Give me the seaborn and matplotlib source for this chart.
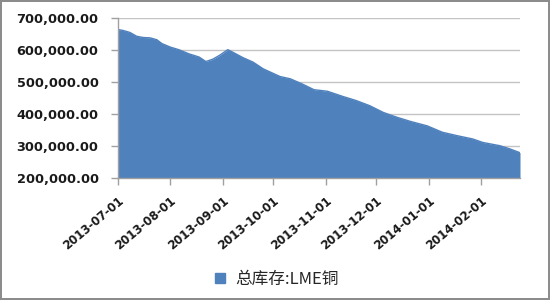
import matplotlib
matplotlib.use("Agg")
import matplotlib.pyplot as plt
from matplotlib.lines import Line2D
import seaborn as sns
import pandas as pd

dates = ["2013-07-01", "2013-07-04", "2013-07-08", "2013-07-12", "2013-07-16",
         "2013-07-20", "2013-07-24", "2013-07-27", "2013-08-01", "2013-08-06",
         "2013-08-12", "2013-08-18", "2013-08-22", "2013-08-26", "2013-08-30",
         "2013-09-04", "2013-09-07", "2013-09-13", "2013-09-19", "2013-09-25",
         "2013-10-05", "2013-10-11", "2013-10-18", "2013-10-25", "2013-11-02",
         "2013-11-11", "2013-11-19", "2013-11-27", "2013-12-05", "2013-12-13",
         "2013-12-21", "2013-12-31", "2014-01-09", "2014-01-18", "2014-01-27",
         "2014-02-02", "2014-02-12", "2014-02-18", "2014-02-24"]
stock = [664000, 661000, 655000, 643000, 639000,
         638000, 632000, 620000, 609000, 601000,
         588000, 578000, 564000, 571000, 583000,
         601000, 593000, 576000, 562000, 541000,
         517000, 510000, 494000, 476000, 471000,
         455000, 442000, 426000, 405000, 390000,
         377000, 363000, 343000, 332000, 322000,
         311000, 301000, 291000, 279000]
month_ticks = ["2013-07-01", "2013-08-01", "2013-09-01", "2013-10-01",
               "2013-11-01", "2013-12-01", "2014-01-01", "2014-02-01"]
y_ticks = [200000, 300000, 400000, 500000, 600000, 700000]
series_name = "总库存:LME铜"

df = pd.DataFrame({"date": pd.to_datetime(dates), "stock": stock})
color = "#4F81BD"

sns.set_style("white")
plt.rcParams["font.family"] = ["DejaVu Sans"]

fig = plt.figure(figsize=(5.5, 3.0), dpi=100, edgecolor="#8c8c8c", linewidth=1.5)
ax = fig.add_axes([118 / 550, 1 - 178 / 300, (520 - 118) / 550, (178 - 18) / 300])

sns.lineplot(data=df, x="date", y="stock", ax=ax, color=color, linewidth=1)
ax.fill_between(df["date"], df["stock"], y_ticks[0], color=color, linewidth=0)

ax.set_xlim(df["date"].iloc[0], df["date"].iloc[-1])
ax.set_ylim(y_ticks[0], y_ticks[-1])
ax.set_yticks(y_ticks)
ax.set_yticklabels([f"{v:,.2f}" for v in y_ticks], fontsize=9.3, fontweight="bold", color="#1a1a1a")
ax.set_xticks(pd.to_datetime(month_ticks))
ax.set_xticklabels(month_ticks, rotation=40, ha="right", rotation_mode="anchor",
                   fontsize=8.5, fontweight="bold", color="#1a1a1a")
ax.set_xlabel("")
ax.set_ylabel("")

ax.grid(axis="y", color="#c4c4c4", linewidth=1)
ax.grid(axis="x", visible=False)
ax.set_axisbelow(True)
for s in ["top", "right"]:
    ax.spines[s].set_visible(False)
for s in ["left", "bottom"]:
    ax.spines[s].set_color("#a0a0a0")
    ax.spines[s].set_linewidth(1)
ax.tick_params(axis="both", which="both", length=5, width=1, color="#a0a0a0",
               direction="out", left=True, bottom=True)
ax.tick_params(axis="y", pad=9)
ax.tick_params(axis="x", pad=7)

handle = Line2D([], [], marker="s", linestyle="none", markersize=7,
                markerfacecolor=color, markeredgecolor=color)
fig.legend([handle], [series_name], loc="center", bbox_to_anchor=(0.5, 1 - 279 / 300),
           frameon=False, handletextpad=0.4, handlelength=1.0,
           prop={"family": ["Noto Sans CJK SC", "DejaVu Sans"], "size": 12})

fig.savefig("out.png", dpi=100, facecolor="white", edgecolor=fig.get_edgecolor())
